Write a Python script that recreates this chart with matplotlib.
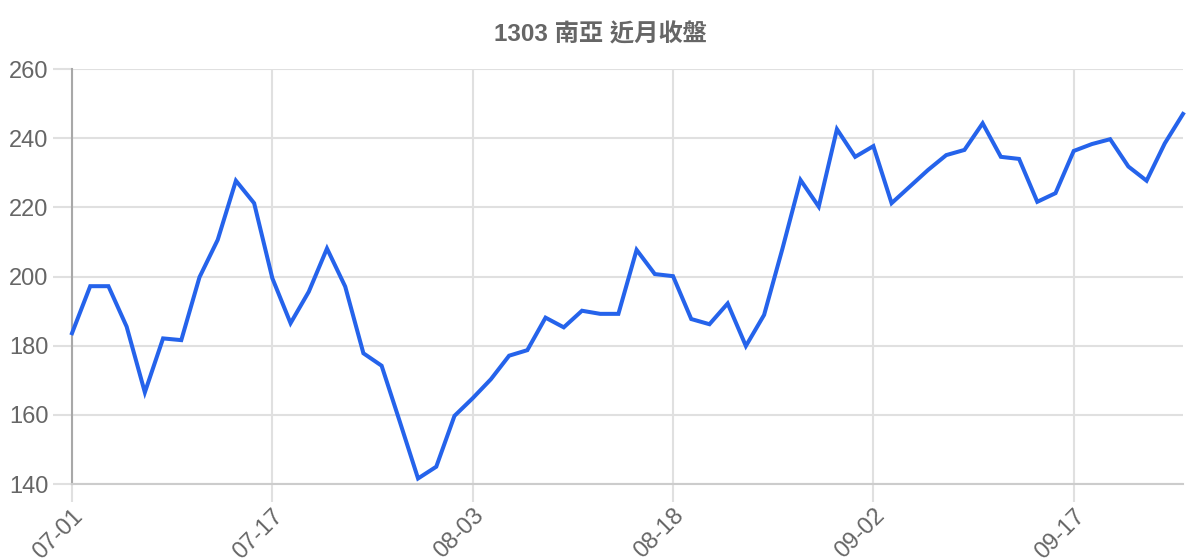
import matplotlib
matplotlib.use("Agg")
import matplotlib.pyplot as plt

# 1303 南亞 near-month closing prices
closes = [
    183.6, 197.2, 197.2, 185.5, 166.5, 182.1, 181.6, 199.8, 210.6, 227.7,
    221.2, 199.5, 186.5, 195.6, 208.1, 197.1, 177.8, 174.2, 158.0, 141.6,
    145.0, 159.7, 164.8, 170.3, 177.1, 178.7, 188.1, 185.3, 190.1, 189.2,
    189.2, 207.7, 200.7, 200.1, 187.7, 186.2, 192.2, 179.9, 188.9, 207.9,
    227.9, 220.2, 242.6, 234.6, 237.7, 221.2, 226.0, 230.8, 235.1, 236.6,
    244.3, 234.6, 234.0, 221.6, 224.1, 236.3, 238.3, 239.7, 231.8, 227.7,
    238.5, 247.0,
]
tick_idx = [0, 11, 22, 33, 44, 55]
tick_labels = ["07-01", "07-17", "08-03", "08-18", "09-02", "09-17"]
y_ticks = [140, 160, 180, 200, 220, 240, 260]
title = "1303 南亞 近月收盤"

text_color = "#666666"
grid_color = "#e0e0e0"
fonts = ["Liberation Sans", "Noto Sans CJK TC", "DejaVu Sans"]
plt.rcParams["font.family"] = fonts

fig = plt.figure(figsize=(12, 5.6), dpi=100)
ax = fig.add_axes([72 / 1200, 1 - 484 / 560, (1183 - 72) / 1200, (484 - 69) / 560])

ax.plot(range(len(closes)), closes, color="#2563eb", linewidth=2.9,
        solid_joinstyle="miter", clip_on=False, zorder=3)

ax.set_xlim(0, len(closes) - 1)
ax.set_ylim(y_ticks[0], y_ticks[-1])
ax.set_xticks(tick_idx)
ax.set_xticklabels(tick_labels, rotation=45, ha="right", va="top",
                   rotation_mode="anchor")
ax.set_yticks(y_ticks)

ax.grid(True, color=grid_color, linewidth=1.5)
ax.set_axisbelow(True)
ax.tick_params(axis="y", length=14, width=1.5, color=grid_color, pad=3,
               labelsize=17, labelcolor=text_color)
ax.tick_params(axis="x", length=13, width=1.5, color=grid_color, pad=2,
               labelsize=17, labelcolor=text_color)
ax.xaxis.get_major_ticks()[0].tick1line.set_color("#a8a8a8")

for side in ["top", "right"]:
    ax.spines[side].set_visible(False)
ax.spines["left"].set_color("#a8a8a8")
ax.spines["left"].set_linewidth(1.5)
ax.spines["bottom"].set_color("#cccccc")
ax.spines["bottom"].set_linewidth(1.5)

fig.text(0.5, 1 - 35 / 560, title, ha="center", va="center",
         fontsize=17.5, fontweight="bold", color=text_color, family=fonts)

fig.savefig("out.png", dpi=100)
